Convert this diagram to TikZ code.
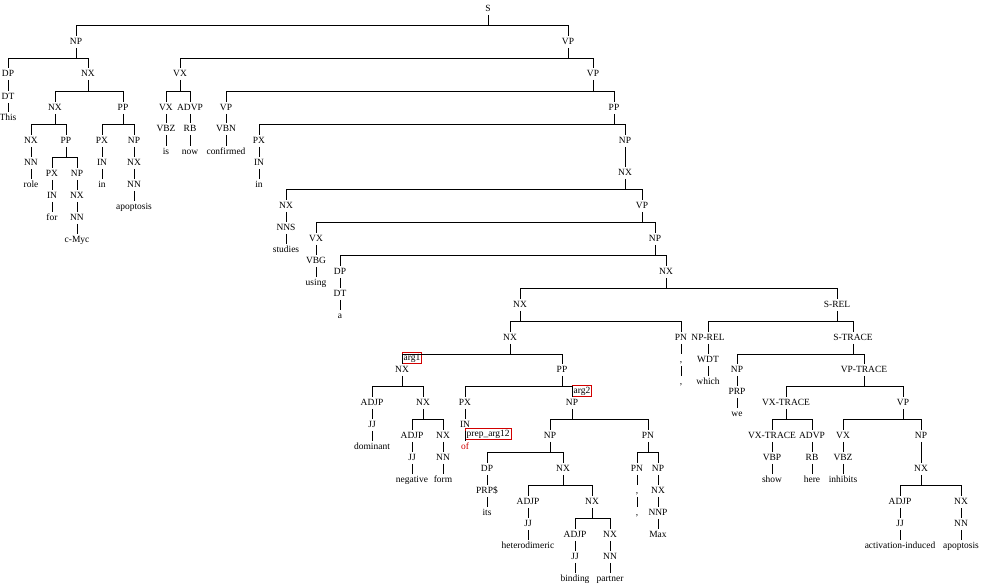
\documentclass[tikz,border=0pt]{standalone}
\usepackage{fontspec}
\setmainfont{Liberation Serif}
\usepackage{xcolor}

\definecolor{argred}{RGB}{210,0,0}

\tikzset{
	tag/.style={inner sep=1pt, text height=5pt, text depth=1.5pt,
		font=\fontsize{7.1}{8}\selectfont},
	word/.style={tag},
	argbox/.style={tag, draw=argred, fill=white, line width=.6pt},
	branch/.style={line width=.6pt, black}
}

% parent, left child, right child
\newcommand\fork[3]{%
	\path (#1.south) -- (#1.south |- #2.north) coordinate[pos=.5] (#1-j);
	\draw[branch] (#1.south) -- (#1-j) -| (#2.north) (#1-j) -| (#3.north);}

\begin{document}
\begin{tikzpicture}[x=0.75pt,y=-0.75pt]
			%\draw[help lines] (0,0) grid (982,586);
			\useasboundingbox (0,0) rectangle (982,586);
			
			\node[tag] (s) at (488,9) {S};
			\node[tag] (np) at (76,42) {NP};
			\node[tag] (vp) at (568,42) {VP};
			
			% subject
			\node[tag] (dp) at (8,74) {DP};
			\node[tag] (dt) at (8,97) {DT};
			\node[word] (wthis) at (8,118) {This};
			\node[tag] (nx) at (88,74) {NX};
			\node[tag] (nxa) at (55,108) {NX};
			\node[tag] (ppa) at (123,108) {PP};
			\node[tag] (nxb) at (31,141) {NX};
			\node[tag] (nnb) at (31,163) {NN};
			\node[word] (wrole) at (31,185) {role};
			\node[tag] (ppb) at (66,141) {PP};
			\node[tag] (pxb) at (52,174) {PX};
			\node[tag] (inb) at (52,196) {IN};
			\node[word] (wfor) at (52,218) {for};
			\node[tag] (npb) at (77,174) {NP};
			\node[tag] (nxc) at (77,196) {NX};
			\node[tag] (nnc) at (77,218) {NN};
			\node[word] (wcmyc) at (77,240) {c-Myc};
			\node[tag] (pxa) at (102,141) {PX};
			\node[tag] (ina) at (102,163) {IN};
			\node[word] (win1) at (102,185) {in};
			\node[tag] (npa) at (134,141) {NP};
			\node[tag] (nxd) at (134,163) {NX};
			\node[tag] (nnd) at (134,185) {NN};
			\node[word] (wapop1) at (134,207) {apoptosis};
			
			% verb phrase
			\node[tag] (vx) at (180,74) {VX};
			\node[tag] (vxa) at (166,108) {VX};
			\node[tag] (vbz) at (166,129) {VBZ};
			\node[word] (wis) at (166,152) {is};
			\node[tag] (advp) at (190,108) {ADVP};
			\node[tag] (rb) at (190,129) {RB};
			\node[word] (wnow) at (190,152) {now};
			\node[tag] (vpb) at (593,74) {VP};
			\node[tag] (vpc) at (226,108) {VP};
			\node[tag] (vbn) at (226,129) {VBN};
			\node[word] (wconf) at (226,152) {confirmed};
			\node[tag] (ppc) at (614,108) {PP};
			\node[tag] (pxc) at (259,141) {PX};
			\node[tag] (inc) at (259,163) {IN};
			\node[word] (win2) at (259,185) {in};
			\node[tag] (npc) at (625,141) {NP};
			\node[tag] (nxe) at (625,173) {NX};
			\node[tag] (nxf) at (286,206) {NX};
			\node[tag] (nns) at (286,228) {NNS};
			\node[word] (wstudies) at (286,250) {studies};
			\node[tag] (vpd) at (642,206) {VP};
			\node[tag] (vxb) at (316,239) {VX};
			\node[tag] (vbg) at (316,261) {VBG};
			\node[word] (wusing) at (316,283) {using};
			\node[tag] (npd) at (655,239) {NP};
			\node[tag] (dpb) at (340,272) {DP};
			\node[tag] (dtb) at (340,294) {DT};
			\node[word] (wa) at (340,316) {a};
			\node[tag] (nxg) at (666,272) {NX};
			\node[tag] (nxh) at (520,305) {NX};
			\node[tag] (nxi) at (510,338) {NX};
			\node[tag] (pna) at (681,338) {PN};
			\node[tag] (comma1) at (681,360) {,};
			\node[word] (wcomma1) at (681,382) {,};
			
			% arg1 side
			\node[tag] (nxj) at (402,370) {NX};
			\node[tag] (adjpa) at (372,403) {ADJP};
			\node[tag] (jja) at (372,425) {JJ};
			\node[word] (wdom) at (372,447) {dominant};
			\node[tag] (nxk) at (423,403) {NX};
			\node[tag] (adjpb) at (412,436) {ADJP};
			\node[tag] (jjb) at (412,458) {JJ};
			\node[word] (wneg) at (412,480) {negative};
			\node[tag] (nxl) at (443,436) {NX};
			\node[tag] (nnl) at (443,458) {NN};
			\node[word] (wform) at (443,480) {form};
			
			% of-phrase
			\node[tag] (ppd) at (562,370) {PP};
			\node[tag] (pxd) at (465,403) {PX};
			\node[tag] (ind) at (465,425) {IN};
			\node[word, text=argred] (wof) at (465,447) {of};
			\node[tag] (npe) at (572,403) {NP};
			\node[tag] (npf) at (550,436) {NP};
			\node[tag] (dpc) at (487,469) {DP};
			\node[tag] (prps) at (487,491) {PRP\$};
			\node[word] (wits) at (487,513) {its};
			\node[tag] (nxm) at (563,469) {NX};
			\node[tag] (adjpc) at (528,502) {ADJP};
			\node[tag] (jjc) at (528,524) {JJ};
			\node[word] (whet) at (528,546) {heterodimeric};
			\node[tag] (nxn) at (592,502) {NX};
			\node[tag] (adjpd) at (575,535) {ADJP};
			\node[tag] (jjd) at (575,557) {JJ};
			\node[word] (wbind) at (575,579) {binding};
			\node[tag] (nxo) at (610,535) {NX};
			\node[tag] (nno) at (610,557) {NN};
			\node[word] (wpart) at (610,579) {partner};
			\node[tag] (pnb) at (648,436) {PN};
			\node[tag] (pnc) at (637,469) {PN};
			\node[tag] (comma2) at (637,491) {,};
			\node[word] (wcomma2) at (637,513) {,};
			\node[tag] (npg) at (658,469) {NP};
			\node[tag] (nxp) at (658,491) {NX};
			\node[tag] (nnp) at (658,513) {NNP};
			\node[word] (wmax) at (658,535) {Max};
			
			% relative clause
			\node[tag] (srel) at (837,305) {S-REL};
			\node[tag] (nprel) at (708,338) {NP-REL};
			\node[tag] (wdt) at (708,360) {WDT};
			\node[word] (wwhich) at (708,382) {which};
			\node[tag] (strace) at (853,338) {S-TRACE};
			\node[tag] (nph) at (737,370) {NP};
			\node[tag] (prp) at (737,392) {PRP};
			\node[word] (wwe) at (737,414) {we};
			\node[tag] (vptrace) at (864,370) {VP-TRACE};
			\node[tag] (vxtrace) at (786,403) {VX-TRACE};
			\node[tag] (vxtraceb) at (772,436) {VX-TRACE};
			\node[tag] (vbp) at (772,458) {VBP};
			\node[word] (wshow) at (772,480) {show};
			\node[tag] (advpb) at (812,436) {ADVP};
			\node[tag] (rbb) at (812,458) {RB};
			\node[word] (where) at (812,480) {here};
			\node[tag] (vpe) at (903,403) {VP};
			\node[tag] (vxc) at (843,436) {VX};
			\node[tag] (vbzb) at (843,458) {VBZ};
			\node[word] (winh) at (843,480) {inhibits};
			\node[tag] (npi) at (921,436) {NP};
			\node[tag] (nxq) at (921,469) {NX};
			\node[tag] (adjpe) at (900,502) {ADJP};
			\node[tag] (jje) at (900,524) {JJ};
			\node[word] (wact) at (900,546) {activation-induced};
			\node[tag] (nxr) at (961,502) {NX};
			\node[tag] (nnr) at (961,524) {NN};
			\node[word] (wapop2) at (961,546) {apoptosis};
			
			% argument marks
			\node[argbox, anchor=south west] (arg1) at (nxj.north) {arg1};
			\node[argbox, anchor=south west] (arg2) at (npe.north) {arg2};
			\node[argbox, anchor=north west] (preparg) at ([yshift=2.5pt]ind.south) {prep\_arg12};
			
			\foreach \p/\l/\r in {s/np/vp, np/dp/nx, nx/nxa/ppa, nxa/nxb/ppb,
				ppb/pxb/npb, ppa/pxa/npa, vp/vx/vpb, vx/vxa/advp, vpb/vpc/ppc,
				ppc/pxc/npc, nxe/nxf/vpd, vpd/vxb/npd, npd/dpb/nxg, nxg/nxh/srel,
				nxh/nxi/pna, nxi/nxj/ppd, nxj/adjpa/nxk, nxk/adjpb/nxl, ppd/pxd/npe,
				npe/npf/pnb, npf/dpc/nxm, nxm/adjpc/nxn, nxn/adjpd/nxo, pnb/pnc/npg,
				srel/nprel/strace, strace/nph/vptrace, vptrace/vxtrace/vpe,
				vxtrace/vxtraceb/advpb, vpe/vxc/npi, nxq/adjpe/nxr}
				\fork{\p}{\l}{\r};
			
			\foreach \a/\b in {dp/dt, dt/wthis, nxb/nnb, nnb/wrole, pxb/inb, inb/wfor,
				npb/nxc, nxc/nnc, nnc/wcmyc, pxa/ina, ina/win1, npa/nxd, nxd/nnd, nnd/wapop1,
				vxa/vbz, vbz/wis, advp/rb, rb/wnow, vpc/vbn, vbn/wconf, pxc/inc, inc/win2,
				npc/nxe, nxf/nns, nns/wstudies, vxb/vbg, vbg/wusing, dpb/dtb, dtb/wa,
				pna/comma1, comma1/wcomma1, adjpa/jja, jja/wdom, adjpb/jjb, jjb/wneg,
				nxl/nnl, nnl/wform, pxd/ind, ind/wof, dpc/prps, prps/wits, adjpc/jjc,
				jjc/whet, adjpd/jjd, jjd/wbind, nxo/nno, nno/wpart, pnc/comma2,
				comma2/wcomma2, npg/nxp, nxp/nnp, nnp/wmax, nprel/wdt, wdt/wwhich,
				nph/prp, prp/wwe, vxtraceb/vbp, vbp/wshow, advpb/rbb, rbb/where,
				vxc/vbzb, vbzb/winh, npi/nxq, adjpe/jje, jje/wact, nxr/nnr, nnr/wapop2}
				\draw[branch] (\a.south) -- (\b.north);
			
\end{tikzpicture}
\end{document}
